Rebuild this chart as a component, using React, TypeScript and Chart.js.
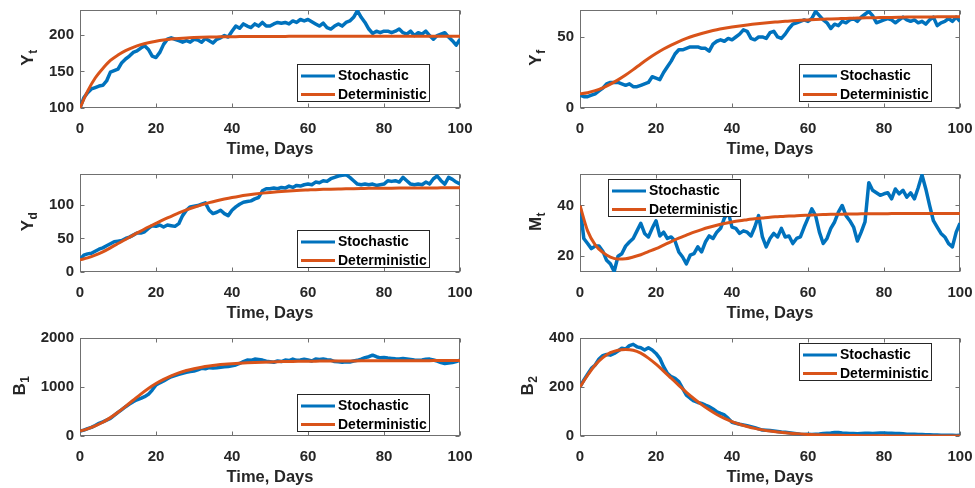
import React, { useEffect, useRef } from "react";
import { Chart, registerables } from "chart.js";

Chart.register(...registerables);

// ---------------- data ----------------
const stochDays = Array.from({ length: 101 }, (_, i) => i);
const detDays = Array.from({ length: 51 }, (_, i) => i * 2);
const xTicks = [0, 20, 40, 60, 80, 100];
const xTitle = "Time, Days";
const seriesNames = ["Stochastic", "Deterministic"];

const ytTicks = [100, 150, 200];
const ytStoch = [
  100, 114, 121, 126, 128, 130, 131, 137, 149, 151,
  153, 162, 167, 171, 176, 178, 182, 185, 180, 171,
  169, 176, 187, 194, 196, 194, 192, 190, 192, 190,
  194, 193, 190, 195, 192, 189, 194, 196, 199, 197,
  205, 212, 209, 215, 212, 210, 215, 212, 217, 212,
  212, 215, 217, 216, 217, 215, 219, 217, 221, 219,
  221, 218, 215, 212, 216, 210, 208, 212, 215, 212,
  217, 219, 224, 233, 224, 217, 208, 202, 205, 203,
  205, 205, 203, 205, 208, 203, 201, 205, 199, 203,
  201, 205, 199, 194, 199, 201, 203, 197, 192, 186, 194,
];
const ytDet = [
  100, 123, 141, 154, 165, 172.5, 178.5, 183, 186.6, 189.3,
  191.4, 193, 194.2, 195.1, 195.8, 196.3, 196.7, 197, 197.2, 197.4,
  197.5, 197.6, 197.7, 197.8, 197.8, 197.9, 197.9, 197.9, 198, 198,
  198, 198, 198, 198, 198, 198, 198, 198, 198, 198,
  198, 198, 198, 198, 198, 198, 198, 198, 198, 198, 198,
];

const yfTicks = [0, 50];
const yfStoch = [
  9, 8, 8, 9, 10, 12, 14, 17, 18, 18,
  18, 17, 16, 17, 15, 15, 16, 17, 18, 22,
  21, 20, 25, 29, 33, 38, 41, 41, 42, 43,
  43, 43, 42, 42, 40, 45, 47, 48, 47, 49,
  48, 50, 52, 55, 54, 49, 48, 50, 50, 49,
  53, 54, 50, 49, 52, 56, 59, 60, 61, 62,
  61, 63, 68, 65, 62, 60, 56, 59, 58, 61,
  60, 62, 63, 61, 64, 66, 68, 65, 60, 61,
  62, 63, 62, 60, 62, 64, 62, 61, 62, 60,
  61, 59, 62, 64, 58, 60, 61, 63, 61, 64, 61,
];
const yfDet = [
  10, 10.8, 12.2, 14.2, 16.8, 19.8, 23.2, 27, 31, 34.8,
  38.3, 41.5, 44.3, 46.8, 49, 50.9, 52.5, 53.9, 55.1, 56.1,
  57, 57.8, 58.5, 59.1, 59.7, 60.2, 60.6, 61, 61.4, 61.7,
  62, 62.3, 62.5, 62.7, 62.9, 63.1, 63.2, 63.4, 63.5, 63.6,
  63.7, 63.8, 63.9, 64, 64, 64.1, 64.1, 64.2, 64.2, 64.3, 64.3,
];

const ydTicks = [0, 50, 100];
const ydStoch = [
  19, 25, 27, 28, 31, 34, 36, 39, 42, 45,
  46, 47, 50, 52, 55, 58, 58, 60, 65, 69,
  68, 70, 67, 70, 69, 68, 72, 84, 92, 97,
  98, 99, 101, 103, 92, 87, 89, 92, 87, 84,
  92, 97, 101, 104, 105, 106, 109, 111, 121, 124,
  124, 125, 124, 126, 125, 128, 126, 129, 128, 130,
  131, 130, 134, 133, 136, 135, 139, 141, 143, 144,
  145, 141, 136, 131, 130, 131, 130, 131, 129, 130,
  131, 136, 135, 136, 134, 141, 136, 131, 130, 131,
  130, 134, 131, 139, 143, 136, 131, 141, 138, 134, 131,
];
const ydDet = [
  18, 21, 25, 30, 36, 42.5, 48.5, 55, 61, 67,
  72.5, 78, 83, 88, 92.5, 96.5, 100, 103.3, 106.2, 108.7,
  111, 113, 114.7, 116.2, 117.5, 118.6, 119.6, 120.4, 121.1, 121.7,
  122.2, 122.7, 123.1, 123.4, 123.7, 124, 124.2, 124.4, 124.6, 124.7,
  124.8, 124.9, 125, 125.1, 125.2, 125.2, 125.3, 125.3, 125.4, 125.4, 125.4,
];

const mtTicks = [20, 40];
const mtStoch = [
  40, 27, 25, 23, 24, 24, 22, 18.4, 17, 14,
  20, 21, 24, 25.6, 27, 30, 33, 29, 27.6, 31,
  34, 28, 29.5, 27, 27.6, 26, 21.7, 19.7, 17, 20.4,
  21, 23.7, 21.7, 25.6, 28, 27, 29.5, 31, 35, 37.4,
  31.5, 31, 29, 30, 29.5, 28, 31.5, 36, 27.6, 23.7,
  27, 29, 27.6, 31, 27.6, 28, 25, 27, 27.6, 31.5,
  35, 38.7, 36, 29.5, 25, 27, 31, 33.5, 37.4, 40,
  36, 34, 31.5, 26, 29.5, 33.5, 49, 46, 45, 44,
  44.6, 45, 42.6, 46.5, 44.6, 46, 43.3, 45, 42.6, 47,
  52, 46.5, 40, 34, 31.5, 29, 27.6, 25, 23.7, 29.5, 33,
];
const mtDet = [
  40, 30, 24.5, 21.5, 19.7, 18.9, 19, 19.7, 20.6, 21.8,
  23, 24.4, 25.8, 27.1, 28.3, 29.5, 30.5, 31.4, 32.2, 32.9,
  33.5, 34, 34.4, 34.8, 35.1, 35.4, 35.6, 35.8, 35.9, 36.1,
  36.2, 36.3, 36.4, 36.5, 36.5, 36.6, 36.6, 36.7, 36.7, 36.7,
  36.7, 36.8, 36.8, 36.8, 36.8, 36.8, 36.8, 36.8, 36.8, 36.8, 36.8,
];

const b1Ticks = [0, 1000, 2000];
const b1Stoch = [
  100, 120, 150, 175, 215, 258, 290, 325, 360, 420,
  483, 540, 598, 650, 700, 740, 768, 802, 850, 938,
  1040, 1085, 1122, 1170, 1210, 1235, 1258, 1280, 1300, 1315,
  1326, 1350, 1380, 1370, 1394, 1385, 1394, 1405, 1414, 1420,
  1435, 1450, 1480, 1520, 1550, 1545, 1570, 1560, 1550, 1525,
  1516, 1505, 1530, 1520, 1550, 1540, 1570, 1545, 1550, 1565,
  1550, 1530, 1570, 1560, 1570, 1555, 1550, 1520, 1516, 1505,
  1516, 1510, 1530, 1545, 1570, 1600, 1618, 1650, 1618, 1595,
  1600, 1590, 1584, 1575, 1570, 1580, 1570, 1560, 1550, 1545,
  1550, 1565, 1570, 1550, 1530, 1500, 1480, 1490, 1500, 1520, 1550,
];
const b1Det = [
  100, 145, 205, 280, 375, 485, 605, 730, 855, 970,
  1070, 1155, 1228, 1288, 1336, 1374, 1405, 1429, 1448, 1463,
  1475, 1485, 1494, 1501, 1507, 1512, 1516, 1519, 1522, 1524,
  1526, 1528, 1529, 1530, 1531, 1532, 1533, 1534, 1535, 1535,
  1536, 1536, 1537, 1537, 1538, 1538, 1538, 1539, 1539, 1539, 1540,
];

const b2Ticks = [0, 200, 400];
const b2Stoch = [
  200, 228, 252, 276, 290, 314, 328, 333, 330, 337,
  347, 358, 355, 369, 374, 364, 360, 351, 360, 351,
  337, 317, 283, 256, 242, 235, 222, 194, 167, 154,
  143, 137, 133, 126, 120, 110, 99, 92, 86, 72,
  56, 52, 48, 45, 42, 38, 34, 29, 24, 23,
  22, 20, 18, 16, 15, 13, 11, 9, 7, 6,
  7, 6, 7, 8, 10, 11, 12, 14, 14, 12,
  11, 10, 10, 9, 10, 11, 11, 10, 11, 12,
  12, 11, 11, 10, 10, 9, 7, 7, 7, 6,
  6, 5, 5, 4, 4, 3, 3, 3, 3, 2, 3,
];
const b2Det = [
  200, 248, 290, 320, 340, 350, 353, 350, 338, 318,
  293, 265, 236, 207, 178, 152, 128, 107, 88, 72,
  59, 48, 39, 31, 25, 20, 16, 13, 10.4, 8.3,
  6.6, 5.3, 4.2, 3.3, 2.6, 2.1, 1.7, 1.3, 1, 0.8,
  0.6, 0.5, 0.4, 0.3, 0.25, 0.2, 0.2, 0.1, 0.1, 0.1, 0.1,
];

// ---------------- layout / style ----------------
const W = 975;
const H = 488;
const FAMILY = '"Liberation Sans", Arial, Helvetica, sans-serif';
const BLUE = "#0072BD";
const ORANGE = "#D95319";
const TEXT = "#262626";
const AXIS = "#707070";
const COL_LEFT = [80, 580];
const ROW_TOP = [10, 174, 338];
const AREA_W = 380;
const AREA_H = 98;
const Y_AXIS_W = 60;
const X_AXIS_H = 52;

type Panel = {
  main: string;
  sub: string;
  stoch: number[];
  det: number[];
  range: [number, number];
  ticks: number[];
  col: number;
  row: number;
  corner: "se" | "nw" | "ne";
  off: [number, number];
};

const panels: Panel[] = [
  { main: "Y", sub: "t", stoch: ytStoch, det: ytDet, range: [100, 234], ticks: ytTicks, col: 0, row: 0, corner: "se", off: [30, 6] },
  { main: "Y", sub: "f", stoch: yfStoch, det: yfDet, range: [0, 69], ticks: yfTicks, col: 1, row: 0, corner: "se", off: [28, 6] },
  { main: "Y", sub: "d", stoch: ydStoch, det: ydDet, range: [0, 146], ticks: ydTicks, col: 0, row: 1, corner: "se", off: [30, 4] },
  { main: "M", sub: "t", stoch: mtStoch, det: mtDet, range: [13.8, 52.4], ticks: mtTicks, col: 1, row: 1, corner: "nw", off: [28, 5] },
  { main: "B", sub: "1", stoch: b1Stoch, det: b1Det, range: [0, 2000], ticks: b1Ticks, col: 0, row: 2, corner: "se", off: [30, 4] },
  { main: "B", sub: "2", stoch: b2Stoch, det: b2Det, range: [0, 400], ticks: b2Ticks, col: 1, row: 2, corner: "ne", off: [28, 5] },
];

const TICK_FONT = { family: FAMILY, size: 15, weight: "bold" as const };
const TITLE_FONT = { family: FAMILY, size: 16.5, weight: "bold" as const };
const plain = (v: any) => String(v);

function makeDecor(p: Panel) {
  return {
    id: "decor",
    beforeDatasetsDraw(chart: any) {
      const { ctx, chartArea: a, scales } = chart;
      const xs = scales.x;
      const ys = scales.y;
      ctx.save();
      ctx.strokeStyle = AXIS;
      ctx.lineWidth = 1;
      const L = Math.round(a.left) + 0.5;
      const R = Math.round(a.right) - 0.5;
      const T = Math.round(a.top) + 0.5;
      const B = Math.round(a.bottom) - 0.5;
      ctx.strokeRect(L, T, R - L, B - T);
      const tl = 4;
      ctx.beginPath();
      xTicks.forEach((v) => {
        const px = Math.round(xs.getPixelForValue(v)) + 0.5;
        ctx.moveTo(px, B);
        ctx.lineTo(px, B - tl);
        ctx.moveTo(px, T);
        ctx.lineTo(px, T + tl);
      });
      p.ticks.forEach((v) => {
        const py = Math.round(ys.getPixelForValue(v)) + 0.5;
        ctx.moveTo(L, py);
        ctx.lineTo(L + tl, py);
        ctx.moveTo(R, py);
        ctx.lineTo(R - tl, py);
      });
      ctx.stroke();

      // y label with subscript
      ctx.font = `bold ${TICK_FONT.size}px ${FAMILY}`;
      let maxW = 0;
      p.ticks.forEach((v) => {
        maxW = Math.max(maxW, ctx.measureText(String(v)).width);
      });
      const baseX = a.left - 6 - maxW - 16;
      const cy = (a.top + a.bottom) / 2 - 1;
      const mainFont = `bold 17px ${FAMILY}`;
      const subFont = `bold 12px ${FAMILY}`;
      ctx.font = mainFont;
      const wm = ctx.measureText(p.main).width;
      ctx.font = subFont;
      const ws = ctx.measureText(p.sub).width;
      ctx.translate(baseX, cy);
      ctx.rotate(-Math.PI / 2);
      ctx.fillStyle = TEXT;
      ctx.textBaseline = "alphabetic";
      ctx.textAlign = "left";
      const sx = -(wm + ws) / 2;
      ctx.font = mainFont;
      ctx.fillText(p.main, sx, 0);
      ctx.font = subFont;
      ctx.fillText(p.sub, sx + wm + 0.5, 4);
      ctx.restore();
    },
    afterDatasetsDraw(chart: any) {
      const { ctx, chartArea: a } = chart;
      const bw = 133;
      const bh = 38;
      let bx = 0;
      let by = 0;
      if (p.corner === "se") {
        bx = a.right - p.off[0] - bw;
        by = a.bottom - p.off[1] - bh;
      } else if (p.corner === "nw") {
        bx = a.left + p.off[0];
        by = a.top + p.off[1];
      } else {
        bx = a.right - p.off[0] - bw;
        by = a.top + p.off[1];
      }
      bx = Math.round(bx);
      by = Math.round(by);
      ctx.save();
      ctx.fillStyle = "#ffffff";
      ctx.fillRect(bx, by, bw, bh);
      ctx.strokeStyle = TEXT;
      ctx.lineWidth = 1;
      ctx.strokeRect(bx + 0.5, by + 0.5, bw - 1, bh - 1);
      const rows = [by + 12, by + 30.5];
      const colors = [BLUE, ORANGE];
      ctx.font = `bold 14px ${FAMILY}`;
      ctx.textBaseline = "middle";
      ctx.textAlign = "left";
      rows.forEach((ry, i) => {
        ctx.strokeStyle = colors[i];
        ctx.lineWidth = 3;
        ctx.beginPath();
        ctx.moveTo(bx + 4, ry);
        ctx.lineTo(bx + 38, ry);
        ctx.stroke();
        ctx.fillStyle = "#000000";
        ctx.fillText(seriesNames[i], bx + 41, ry + 0.5);
      });
      ctx.restore();
    },
  };
}

function PanelChart({ p }: { p: Panel }) {
  const ref = useRef<HTMLCanvasElement>(null);
  useEffect(() => {
    const left = COL_LEFT[p.col];
    const top = ROW_TOP[p.row];
    const right = left + AREA_W;
    const bottom = top + AREA_H;
    const chart = new Chart(ref.current as HTMLCanvasElement, {
      type: "line",
      data: {
        datasets: [
          {
            label: seriesNames[0],
            data: stochDays.map((d, i) => ({ x: d, y: p.stoch[i] })),
            borderColor: BLUE,
            backgroundColor: BLUE,
            borderWidth: 3.5,
            pointRadius: 0,
            tension: 0,
            borderJoinStyle: "round",
            order: 2,
          },
          {
            label: seriesNames[1],
            data: detDays.map((d, i) => ({ x: d, y: p.det[i] })),
            borderColor: ORANGE,
            backgroundColor: ORANGE,
            borderWidth: 3,
            pointRadius: 0,
            cubicInterpolationMode: "monotone",
            order: 1,
          },
        ],
      },
      options: {
        responsive: false,
        maintainAspectRatio: false,
        animation: false,
        devicePixelRatio: 1,
        events: [],
        layout: {
          padding: {
            left: left - Y_AXIS_W,
            top: top,
            right: W - right,
            bottom: H - bottom - X_AXIS_H,
          },
        },
        plugins: {
          legend: { display: false },
          tooltip: { enabled: false },
        },
        scales: {
          x: {
            type: "linear",
            min: 0,
            max: 100,
            bounds: "data",
            afterBuildTicks: (s: any) => {
              s.ticks = xTicks.map((v) => ({ value: v }));
            },
            afterFit: (s: any) => {
              s.height = X_AXIS_H;
              s.paddingLeft = 0;
              s.paddingRight = 0;
            },
            grid: { display: false, drawTicks: false },
            border: { display: false },
            ticks: {
              font: TICK_FONT,
              color: TEXT,
              padding: 12,
              autoSkip: false,
              maxRotation: 0,
              callback: plain,
            },
            title: {
              display: true,
              text: xTitle,
              font: TITLE_FONT,
              color: TEXT,
              padding: { top: 0, bottom: 1 },
            },
          },
          y: {
            type: "linear",
            min: p.range[0],
            max: p.range[1],
            bounds: "data",
            afterBuildTicks: (s: any) => {
              s.ticks = p.ticks.map((v) => ({ value: v }));
            },
            afterFit: (s: any) => {
              s.width = Y_AXIS_W;
              s.paddingTop = 0;
              s.paddingBottom = 0;
            },
            grid: { display: false, drawTicks: false },
            border: { display: false },
            ticks: {
              font: TICK_FONT,
              color: TEXT,
              padding: 6,
              autoSkip: false,
              callback: plain,
            },
          },
        },
      } as any,
      plugins: [makeDecor(p)],
    });
    return () => chart.destroy();
  }, [p]);
  return (
    <canvas
      ref={ref}
      width={W}
      height={H}
      style={{ position: "absolute", left: 0, top: 0, width: W, height: H }}
    />
  );
}

export default function App() {
  return (
    <div
      style={{
        position: "fixed",
        left: 0,
        top: 0,
        width: W,
        height: H,
        background: "#ffffff",
        overflow: "hidden",
      }}
    >
      {panels.map((p, i) => (
        <PanelChart key={i} p={p} />
      ))}
    </div>
  );
}
